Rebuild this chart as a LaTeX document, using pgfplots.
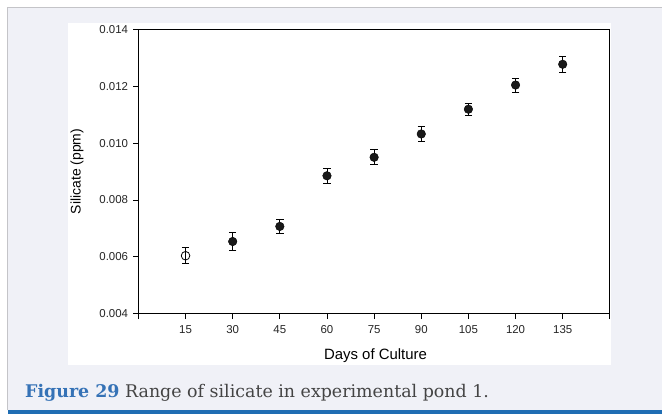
\documentclass[border=0pt]{standalone}
\usepackage{pgfplots}
\pgfplotsset{compat=1.18}
\usepackage{fontspec}
\setmainfont{Liberation Sans}
\newfontfamily\capfont{DejaVu Serif}
\definecolor{panelbg}{HTML}{F0F1F7}
\definecolor{framegray}{HTML}{C4C4C8}
\definecolor{barblue}{HTML}{1F6DB3}
\definecolor{capblue}{HTML}{3572B6}
\definecolor{captext}{HTML}{444444}
\pgfplotstableread{
x y e
15 0.00604 0.00028
}\openpt
\pgfplotstableread{
x y e
30 0.00654 0.00033
45 0.00707 0.00026
60 0.00885 0.00027
75 0.00950 0.00026
90 0.01032 0.00026
105 0.01119 0.00021
120 0.01204 0.00025
135 0.01277 0.00028
}\filledpts
\begin{document}
\begin{tikzpicture}
\fill[white] (0bp,0bp) rectangle (662bp,414bp);
\fill[panelbg] (8bp,3.3bp) rectangle (662bp,406bp);
\draw[framegray, line width=1bp] (8bp,3.3bp) -- (8bp,406bp) -- (662bp,406bp);
\fill[barblue] (8bp,0bp) rectangle (662bp,3.3bp);
\fill[white] (68bp,49bp) rectangle (611bp,391bp);
\node[anchor=base west, inner sep=0, font=\capfont\fontsize{17.5}{20}\selectfont] at (25bp,15.7bp)
  {\textcolor{capblue}{\bfseries Figure 29} \textcolor{captext}{Range of silicate in experimental pond 1.}};
\begin{axis}[
  at={(138.5bp,100bp)}, anchor=south west,
  scale only axis, width=471.8bp, height=284.7bp,
  xmin=0, xmax=150, ymin=0.004, ymax=0.014,
  axis line style={line width=0.9bp, black},
  xtick={0,15,...,150},
  xticklabels={,15,30,45,60,75,90,105,120,135,},
  ytick={0.004,0.006,...,0.0141},
  scaled y ticks=false,
  yticklabel style={/pgf/number format/fixed, /pgf/number format/fixed zerofill, /pgf/number format/precision=3, xshift=-1.5bp},
  xticklabel style={yshift=-3bp},
  /pgf/number format/assume math mode=true,
  tick align=outside,
  xtick pos=bottom, ytick pos=left,
  major tick length=5.3bp,
  tick style={line width=0.8bp, black},
  ticklabel style={font=\fontsize{11.5}{13}\selectfont, text=black!85},
  every axis y label/.style={at={(axis description cs:-0.1304,0.5)}, rotate=90, anchor=center, font=\fontsize{14}{16}\selectfont},
  every axis x label/.style={at={(axis description cs:0.503,-0.1475)}, anchor=center, font=\fontsize{15}{17}\selectfont},
  xlabel={Days of Culture},
  ylabel={Silicate (ppm)},
]
\addplot[only marks, black, mark=o, mark size=4.3bp, mark options={line width=0.8bp},
  error bars/.cd, y dir=both, y explicit,
  error bar style={line width=0.8bp, black},
  error mark options={rotate=90, mark size=3.7bp, line width=0.8bp, black}]
  table[x=x, y=y, y error=e] {\openpt};
\addplot[only marks, black, mark=*, mark size=4.3bp, mark options={fill=black!90},
  error bars/.cd, y dir=both, y explicit,
  error bar style={line width=0.8bp, black},
  error mark options={rotate=90, mark size=3.7bp, line width=0.8bp, black}]
  table[x=x, y=y, y error=e] {\filledpts};
\end{axis}
\end{tikzpicture}
\end{document}
